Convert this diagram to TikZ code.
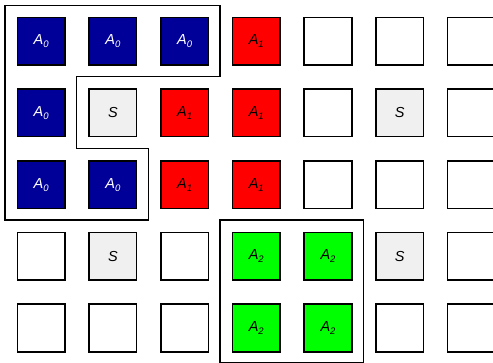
\documentclass[tikz,border=0pt]{standalone}
\usepackage{fontspec}
\setmainfont{Liberation Sans}
\definecolor{navyfill}{RGB}{0,0,153}
\definecolor{redfill}{RGB}{255,0,0}
\definecolor{greenfill}{RGB}{0,255,0}
\definecolor{sitefill}{RGB}{240,240,240}
\newcommand{\idx}[1]{\raisebox{-3pt}{\fontsize{9.5}{9.5}\selectfont#1}}

\begin{document}
\begin{tikzpicture}[x=1pt,y=-1pt,
  cell/.style={draw=black,line width=1.6pt,minimum size=47.5pt,inner sep=0pt,
    font=\itshape\fontsize{14.5}{14.5}\selectfont},
  kind a0/.style={fill=navyfill,text=white,node contents={A\idx{0}}},
  kind a1/.style={fill=redfill,node contents={A\idx{1}}},
  kind a2/.style={fill=greenfill,node contents={A\idx{2}}},
  kind s/.style={fill=sitefill,node contents={S}},
  kind e/.style={fill=white,node contents={}},
  zone/.style={draw=black,line width=1.3pt,line join=miter}]
\useasboundingbox (0,0) rectangle (493,363);
% ---- grid of cells ----
\foreach \row [count=\r from 0] in {{a0,a0,a0,a1,e,e,e},
                                    {a0,s,a1,a1,e,s,e},
                                    {a0,a0,a1,a1,e,e,e},
                                    {e,s,e,a2,a2,s,e},
                                    {e,e,e,a2,a2,e,e}}
  \foreach \k [count=\c from 0] in \row
    \node (c\r\c) at ({41.2+71.7*\c},{41.2+71.7*\r}) [cell,kind \k];
% ---- region of A0 ----
\draw[zone] (5,5.5) -- (220.1,5.5) -- (220.1,76.7) -- (76.7,76.7)
  -- (76.7,148.4) -- (148.4,148.4) -- (148.4,220.1) -- (5,220.1) -- cycle;
% ---- region of A2 ----
\draw[zone] (220.1,220.1) rectangle (363.5,362.2);
\end{tikzpicture}
\end{document}
